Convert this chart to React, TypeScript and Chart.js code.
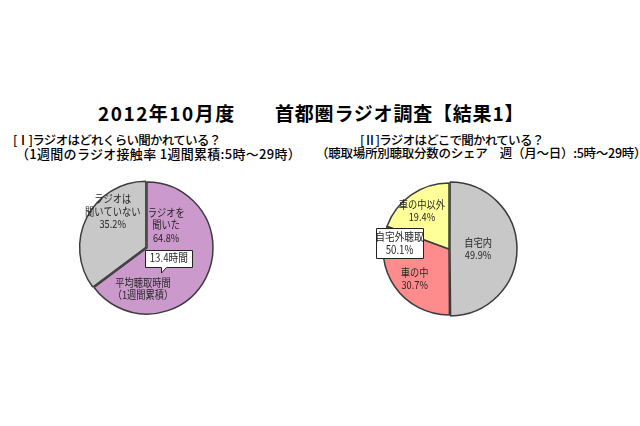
import React, { useEffect, useRef } from 'react';
import { Chart, ArcElement, PieController, Plugin } from 'chart.js';

Chart.register(ArcElement, PieController);

// [I] how much radio is listened to
const listenLabels = ['ラジオを\n聞いた', 'ラジオは\n聞いていない'];
const listenValues = [64.8, 35.2];
const listenColors = ['#CC99CC', '#C8C8C8'];
const avgHoursNote = ['平均聴取時間', '（1週間累積）'];
const avgHours = 13.4;

// [II] where radio is listened to
const placeLabels = ['自宅内', '車の中', '車の中以外'];
const placeValues = [49.9, 30.7, 19.4];
const placeColors = ['#C8C8C8', '#FF8C8C', '#FFFF99'];
const outsideLabel = '自宅外聴取';

const FONT = '"Noto Sans CJK JP", "Noto Sans", sans-serif';

type Spot = { dx: number; dy: number } | null;
type Callout = {
  text: string[];
  dx: number;
  dy: number;
  w: number;
  h: number;
  tail?: { base: number; x: number; y: number };
};
type Note = { text: string[]; dx: number; dy: number };
type PieTextOpts = { spots: Spot[]; callouts: Callout[]; notes: Note[]; lineHeight: number };

const SQUEEZE = 0.84; // the labels in the picture are set in a narrow face

const pieText: Plugin<'pie'> = {
  id: 'pieText',
  afterDatasetsDraw(chart, _args, options) {
    const opts = options as unknown as PieTextOpts;
    const arc = chart.getDatasetMeta(0).data[0] as unknown as ArcElement;
    const r = arc.outerRadius;
    const cx = (chart.chartArea.left + chart.chartArea.right) / 2;
    const cy = (chart.chartArea.top + chart.chartArea.bottom) / 2;
    const ctx = chart.ctx;
    const lh = opts.lineHeight;
    const labels = chart.data.labels as string[];
    const values = chart.data.datasets[0].data as number[];

    const drawLines = (lines: string[], x: number, y: number, size: number) => {
      ctx.save();
      ctx.font = `${size}px ${FONT}`;
      ctx.textAlign = 'center';
      ctx.textBaseline = 'middle';
      ctx.fillStyle = '#262626';
      ctx.translate(x, y);
      ctx.scale(SQUEEZE, 1);
      lines.forEach((t, i) => ctx.fillText(t, 0, (i - (lines.length - 1) / 2) * lh));
      ctx.restore();
    };

    opts.spots.forEach((s, i) => {
      if (!s) return;
      const lines = [...labels[i].split('\n'), values[i].toFixed(1) + '%'];
      drawLines(lines, cx + s.dx * r, cy + s.dy * r, 11);
    });

    opts.notes.forEach((n) => drawLines(n.text, cx + n.dx * r, cy + n.dy * r, 11));

    opts.callouts.forEach((c) => {
      const bx = cx + c.dx * r;
      const by = cy + c.dy * r;
      const w = c.w * r;
      const h = c.h * r;
      const l = Math.round(bx - w / 2) + 0.5;
      const t = Math.round(by - h / 2) + 0.5;
      const rr = l + Math.round(w);
      const b = t + Math.round(h);
      ctx.save();
      ctx.beginPath();
      ctx.moveTo(l, t);
      ctx.lineTo(rr, t);
      ctx.lineTo(rr, b);
      if (c.tail) {
        const tx = cx + c.tail.base * r;
        ctx.lineTo(tx + 3, b);
        ctx.lineTo(cx + c.tail.x * r, cy + c.tail.y * r);
        ctx.lineTo(tx - 2, b);
      }
      ctx.lineTo(l, b);
      ctx.closePath();
      ctx.fillStyle = '#ffffff';
      ctx.fill();
      ctx.strokeStyle = '#222222';
      ctx.lineWidth = 1;
      ctx.stroke();
      ctx.restore();
      drawLines(c.text, bx, by, 11.5);
    });
  },
};

type PieProps = {
  labels: string[];
  values: number[];
  colors: string[];
  offsets: number[];
  text: PieTextOpts;
  left: number;
  top: number;
};

const PieChart: React.FC<PieProps> = ({ labels, values, colors, offsets, text, left, top }) => {
  const canvasRef = useRef<HTMLCanvasElement>(null);
  const chartRef = useRef<Chart<'pie'> | null>(null);

  useEffect(() => {
    if (!canvasRef.current) return;
    if (chartRef.current) chartRef.current.destroy();
    chartRef.current = new Chart(canvasRef.current, {
      type: 'pie',
      data: {
        labels,
        datasets: [
          {
            data: values,
            backgroundColor: colors,
            borderColor: '#3c3c3c',
            borderWidth: 1.5,
            offset: offsets,
          },
        ],
      },
      options: {
        responsive: false,
        animation: false,
        radius: 66,
        layout: { padding: 0 },
        plugins: {
          legend: { display: false },
          tooltip: { enabled: false },
          // @ts-ignore custom plugin options
          pieText: text,
        },
        events: [],
      },
      plugins: [pieText],
    });
    return () => {
      chartRef.current?.destroy();
      chartRef.current = null;
    };
  }, [labels, values, colors, offsets, text]);

  return (
    <canvas
      ref={canvasRef}
      width={200}
      height={200}
      style={{ position: 'absolute', left, top, width: 200, height: 200 }}
    />
  );
};

const listenText: PieTextOpts = {
  lineHeight: 12.5,
  spots: [
    { dx: 0.29, dy: -0.35 },
    { dx: -0.52, dy: -0.55 },
  ],
  notes: [{ text: avgHoursNote, dx: -0.06, dy: 0.62 }],
  callouts: [
    {
      text: [avgHours.toFixed(1) + '時間'],
      dx: 0.33,
      dy: 0.15,
      w: 0.71,
      h: 0.25,
      tail: { base: 0.25, x: 0.22, y: 0.38 },
    },
  ],
};

const outsideShare = placeValues[1] + placeValues[2];

const placeText: PieTextOpts = {
  lineHeight: 12.5,
  spots: [
    { dx: 0.44, dy: 0 },
    { dx: -0.52, dy: 0.45 },
    { dx: -0.41, dy: -0.58 },
  ],
  notes: [],
  callouts: [
    {
      text: [outsideLabel, outsideShare.toFixed(1) + '%'],
      dx: -0.75,
      dy: -0.09,
      w: 0.71,
      h: 0.45,
    },
  ],
};

const abs = (left: number, top: number, size: number, extra: React.CSSProperties = {}): React.CSSProperties => ({
  position: 'absolute',
  left,
  top: top - size / 2,
  fontSize: size,
  lineHeight: `${size}px`,
  whiteSpace: 'nowrap',
  color: '#000',
  fontWeight: 500,
  fontFamily: FONT,
  ...extra,
});

const App: React.FC = () => {
  return (
    <div
      style={{
        position: 'fixed',
        left: 0,
        top: 0,
        width: 640,
        height: 426,
        background: '#fff',
        overflow: 'hidden',
      }}
    >
      <div style={abs(98, 112, 19, { fontWeight: 'bold', letterSpacing: 1.5 })}>2012年10月度</div>
      <div style={abs(275, 112, 19, { fontWeight: 'bold', letterSpacing: 0.8 })}>首都圏ラジオ調査【結果1】</div>

      <div style={abs(13, 140, 12.5, { letterSpacing: -0.7 })}>[Ⅰ]ラジオはどれくらい聞かれている？</div>
      <div style={abs(16, 153, 13, { letterSpacing: 0.3 })}>（1週間のラジオ接触率 1週間累積:5時～29時）</div>

      <div style={abs(360, 140, 12.5, { letterSpacing: -0.7 })}>[Ⅱ]ラジオはどこで聞かれている？</div>
      <div style={abs(316, 153, 12.5, { letterSpacing: -0.25 })}>（聴取場所別聴取分数のシェア　週（月～日）:5時～29時）</div>

      <PieChart
        labels={listenLabels}
        values={listenValues}
        colors={listenColors}
        offsets={[0, 5]}
        text={listenText}
        left={47}
        top={148}
      />
      <PieChart
        labels={placeLabels}
        values={placeValues}
        colors={placeColors}
        offsets={[4, 0, 0]}
        text={placeText}
        left={349}
        top={149}
      />
    </div>
  );
};

export default App;
